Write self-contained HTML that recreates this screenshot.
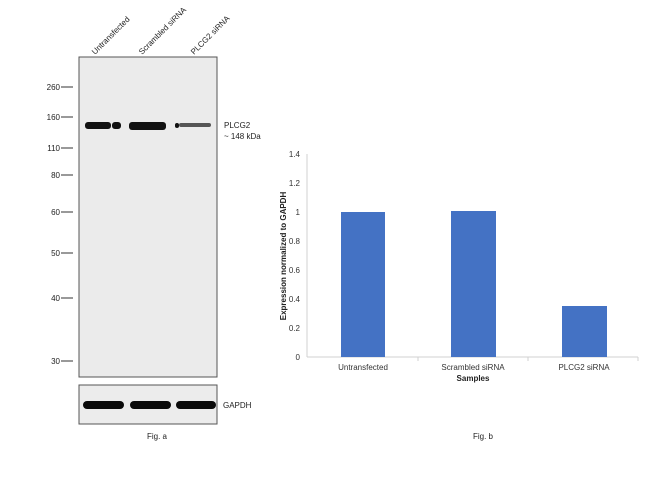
<!DOCTYPE html>
<html><head><style>
body{margin:0;background:#fff;width:650px;height:488px;overflow:hidden;font-family:"Liberation Sans",sans-serif;}
svg text{font-family:"Liberation Sans",sans-serif;}
</style></head><body>
<svg width="650" height="488" viewBox="0 0 650 488">
<rect x="79" y="57" width="138" height="320" fill="#ebebeb" stroke="#555" stroke-width="1"/>
<g fill="#111">
<rect x="85" y="122" width="26" height="7" rx="3"/>
<rect x="112" y="122" width="9" height="7" rx="3"/>
<rect x="129" y="122" width="37" height="8" rx="3"/>
<rect x="175" y="123" width="4" height="5" rx="2"/>
<rect x="179" y="123" width="32" height="4" rx="2" fill="#555"/>
</g>
<rect x="79" y="385" width="138" height="39" fill="#ececec" stroke="#555" stroke-width="1"/>
<g fill="#0a0a0a">
<rect x="83" y="401" width="41" height="8" rx="4"/>
<rect x="130" y="401" width="41" height="8" rx="4"/>
<rect x="176" y="401" width="40" height="8" rx="4"/>
</g>
<text x="223" y="408" font-size="8" fill="#222">GAPDH</text>
<text x="224" y="128" font-size="8" fill="#222">PLCG2</text>
<text x="224" y="139" font-size="8" fill="#222">~ 148 kDa</text>
<g font-size="8" fill="#222" text-anchor="end">
<text x="60" y="90">260</text><text x="60" y="120">160</text><text x="60" y="151">110</text>
<text x="60" y="178">80</text><text x="60" y="215">60</text><text x="60" y="256">50</text>
<text x="60" y="301">40</text><text x="60" y="364">30</text>
</g>
<g stroke="#333" stroke-width="1">
<line x1="61" y1="87" x2="73" y2="87"/><line x1="61" y1="117" x2="73" y2="117"/>
<line x1="61" y1="148" x2="73" y2="148"/><line x1="61" y1="175" x2="73" y2="175"/>
<line x1="61" y1="212" x2="73" y2="212"/><line x1="61" y1="253" x2="73" y2="253"/>
<line x1="61" y1="298" x2="73" y2="298"/><line x1="61" y1="361" x2="73" y2="361"/>
</g>
<g font-size="8" fill="#222">
<text transform="translate(95,55) rotate(-45)">Untransfected</text>
<text transform="translate(142,55) rotate(-45)">Scrambled siRNA</text>
<text transform="translate(194,55) rotate(-45)">PLCG2 siRNA</text>
</g>
<text x="157" y="439" font-size="8" fill="#222" text-anchor="middle">Fig. a</text>
<g stroke="#d0d0d0" stroke-width="1">
<line x1="307" y1="154" x2="307" y2="357"/>
<line x1="307" y1="357" x2="638" y2="357"/>
<line x1="418" y1="357" x2="418" y2="361"/><line x1="528" y1="357" x2="528" y2="361"/><line x1="638" y1="357" x2="638" y2="361"/>
</g>
<g font-size="8" fill="#333" text-anchor="end">
<text x="300" y="360">0</text><text x="300" y="331">0.2</text><text x="300" y="302">0.4</text>
<text x="300" y="273">0.6</text><text x="300" y="244">0.8</text><text x="300" y="215">1</text>
<text x="300" y="186">1.2</text><text x="300" y="157">1.4</text>
</g>
<g fill="#4472c4">
<rect x="341" y="212" width="44" height="145"/>
<rect x="451" y="211" width="45" height="146"/>
<rect x="562" y="306" width="45" height="51"/>
</g>
<g font-size="8" fill="#333" text-anchor="middle">
<text x="363" y="370">Untransfected</text>
<text x="473" y="370">Scrambled siRNA</text>
<text x="584" y="370">PLCG2 siRNA</text>
</g>
<text x="473" y="381" font-size="8" font-weight="bold" fill="#222" text-anchor="middle">Samples</text>
<text transform="translate(286,256) rotate(-90)" font-size="8" font-weight="bold" fill="#222" text-anchor="middle">Expression normalized to GAPDH</text>
<text x="483" y="439" font-size="8" fill="#222" text-anchor="middle">Fig. b</text>
</svg>
</body></html>
